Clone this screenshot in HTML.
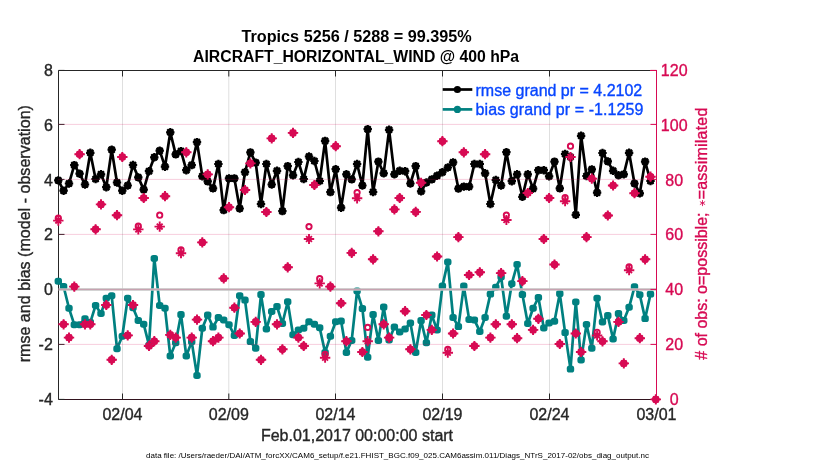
<!DOCTYPE html><html><head><meta charset="utf-8"><title>plot</title><style>html,body{margin:0;padding:0;background:#fff}text{stroke-width:.35px}text[font-weight=bold]{stroke-width:0}#df{stroke-width:0}</style></head><body><svg width="830" height="470" viewBox="0 0 830 470" style="display:block;will-change:transform;font-family:'Liberation Sans',sans-serif">
<rect width="830" height="470" fill="#fff"/>
<defs>
<g id="st" stroke="#D70A53" stroke-width="1.9" stroke-linecap="butt" fill="none"><path d="M-5.2 0H5.2M0 -5.1V5.1M-2.9 -2.9L2.9 2.9M-2.9 2.9L2.9 -2.9"/></g>
<circle id="oo" r="2.65" fill="none" stroke="#D70A53" stroke-width="1.9"/>
<g id="cb"><use href="#oo"/><use href="#st"/><path d="M-4.7 0L0 -4.7L4.7 0L0 4.7Z" fill="#D70A53"/></g>
<g id="bk"><circle r="3.6" fill="#000"/><path d="M-4.2 0H4.2M0 -4.2V4.2M-3 -3L3 3M-3 3L3 -3" stroke="#000" stroke-width="2.2"/></g>
<rect id="tl" x="-3.7" y="-3.5" width="7.4" height="7" rx="2.7" fill="#008080"/>
</defs>
<line x1="122.5" y1="70.5" x2="122.5" y2="399.5" stroke="#DFDFDF" stroke-width="1"/>
<line x1="228.8" y1="70.5" x2="228.8" y2="399.5" stroke="#DFDFDF" stroke-width="1"/>
<line x1="335.5" y1="70.5" x2="335.5" y2="399.5" stroke="#DFDFDF" stroke-width="1"/>
<line x1="442.5" y1="70.5" x2="442.5" y2="399.5" stroke="#DFDFDF" stroke-width="1"/>
<line x1="549.5" y1="70.5" x2="549.5" y2="399.5" stroke="#DFDFDF" stroke-width="1"/>
<path d="M58.5 70.5V399.5M58.5 70.5H650" stroke="#262626" stroke-width="1" fill="none"/>
<path d="M58.5 399.5H656.5" stroke="#32131E" stroke-width="1" fill="none"/>
<path d="M122.5 70.5v6M122.5 399.5v-6" stroke="#262626" stroke-width="1"/>
<path d="M228.8 70.5v6M228.8 399.5v-6" stroke="#262626" stroke-width="1"/>
<path d="M335.5 70.5v6M335.5 399.5v-6" stroke="#262626" stroke-width="1"/>
<path d="M442.5 70.5v6M442.5 399.5v-6" stroke="#262626" stroke-width="1"/>
<path d="M549.5 70.5v6M549.5 399.5v-6" stroke="#262626" stroke-width="1"/>
<path d="M58.5 70.4h6" stroke="#262626" stroke-width="1"/>
<path d="M58.5 124.4h6" stroke="#262626" stroke-width="1"/>
<path d="M58.5 179.4h6" stroke="#262626" stroke-width="1"/>
<path d="M58.5 234.4h6" stroke="#262626" stroke-width="1"/>
<path d="M58.5 289.4h6" stroke="#262626" stroke-width="1"/>
<path d="M58.5 344.4h6" stroke="#262626" stroke-width="1"/>
<path d="M58.5 399.4h6" stroke="#262626" stroke-width="1"/>
<polyline points="58.3,180.4 63.6,190.7 69.0,183.5 74.3,165.1 79.6,173.7 85.0,184.5 90.3,152.8 95.6,179.0 101.0,174.3 106.3,187.2 111.7,149.7 117.0,182.5 122.3,190.7 127.7,185.5 133.0,165.0 138.3,177.4 143.7,189.6 149.0,171.2 154.3,157.3 159.7,150.7 165.0,166.7 170.3,132.3 175.7,154.4 181.0,151.1 186.3,170.2 191.7,165.1 197.0,142.1 202.3,176.3 207.7,181.4 213.0,188.4 218.4,164.0 223.7,210.1 229.0,178.4 234.4,178.4 239.7,208.5 245.0,172.2 250.4,152.4 255.7,162.6 261.0,204.0 266.4,164.0 271.7,184.5 277.0,170.8 282.4,211.1 287.7,166.1 293.0,175.3 298.4,162.0 303.7,179.0 309.0,156.5 314.4,161.0 319.7,181.0 325.1,140.9 330.4,192.1 335.7,169.2 341.1,207.7 346.4,174.3 351.7,179.4 357.1,164.0 362.4,185.5 367.7,129.2 373.1,192.0 378.4,161.6 383.7,173.3 389.1,129.8 394.4,174.3 399.7,170.8 405.1,171.2 410.4,183.5 415.7,166.1 421.1,191.3 426.4,182.5 431.8,179.4 437.1,175.7 442.4,172.2 447.8,167.5 453.1,162.4 458.4,188.6 463.8,186.6 469.1,186.6 474.4,164.0 479.8,164.0 485.1,173.3 490.4,204.0 495.8,180.0 501.1,185.5 506.4,152.2 511.8,181.2 517.1,174.3 522.4,196.8 527.8,174.3 533.1,188.6 538.4,170.2 543.8,170.2 549.1,176.3 554.5,161.6 559.8,188.4 565.1,154.0 570.5,157.0 575.8,214.8 581.1,135.8 586.5,176.0 591.8,169.4 597.1,192.7 602.5,153.0 607.8,161.4 613.1,170.8 618.5,175.3 623.8,174.3 629.1,152.8 634.5,183.5 639.8,193.3 645.1,161.6 650.5,181.0" fill="none" stroke="#000" stroke-width="2.7" stroke-linejoin="round"/>
<use href="#bk" x="58.3" y="180.4"/>
<use href="#bk" x="63.6" y="190.7"/>
<use href="#bk" x="69.0" y="183.5"/>
<use href="#bk" x="74.3" y="165.1"/>
<use href="#bk" x="79.6" y="173.7"/>
<use href="#bk" x="85.0" y="184.5"/>
<use href="#bk" x="90.3" y="152.8"/>
<use href="#bk" x="95.6" y="179.0"/>
<use href="#bk" x="101.0" y="174.3"/>
<use href="#bk" x="106.3" y="187.2"/>
<use href="#bk" x="111.7" y="149.7"/>
<use href="#bk" x="117.0" y="182.5"/>
<use href="#bk" x="122.3" y="190.7"/>
<use href="#bk" x="127.7" y="185.5"/>
<use href="#bk" x="133.0" y="165.0"/>
<use href="#bk" x="138.3" y="177.4"/>
<use href="#bk" x="143.7" y="189.6"/>
<use href="#bk" x="149.0" y="171.2"/>
<use href="#bk" x="154.3" y="157.3"/>
<use href="#bk" x="159.7" y="150.7"/>
<use href="#bk" x="165.0" y="166.7"/>
<use href="#bk" x="170.3" y="132.3"/>
<use href="#bk" x="175.7" y="154.4"/>
<use href="#bk" x="181.0" y="151.1"/>
<use href="#bk" x="186.3" y="170.2"/>
<use href="#bk" x="191.7" y="165.1"/>
<use href="#bk" x="197.0" y="142.1"/>
<use href="#bk" x="202.3" y="176.3"/>
<use href="#bk" x="207.7" y="181.4"/>
<use href="#bk" x="213.0" y="188.4"/>
<use href="#bk" x="218.4" y="164.0"/>
<use href="#bk" x="223.7" y="210.1"/>
<use href="#bk" x="229.0" y="178.4"/>
<use href="#bk" x="234.4" y="178.4"/>
<use href="#bk" x="239.7" y="208.5"/>
<use href="#bk" x="245.0" y="172.2"/>
<use href="#bk" x="250.4" y="152.4"/>
<use href="#bk" x="255.7" y="162.6"/>
<use href="#bk" x="261.0" y="204.0"/>
<use href="#bk" x="266.4" y="164.0"/>
<use href="#bk" x="271.7" y="184.5"/>
<use href="#bk" x="277.0" y="170.8"/>
<use href="#bk" x="282.4" y="211.1"/>
<use href="#bk" x="287.7" y="166.1"/>
<use href="#bk" x="293.0" y="175.3"/>
<use href="#bk" x="298.4" y="162.0"/>
<use href="#bk" x="303.7" y="179.0"/>
<use href="#bk" x="309.0" y="156.5"/>
<use href="#bk" x="314.4" y="161.0"/>
<use href="#bk" x="319.7" y="181.0"/>
<use href="#bk" x="325.1" y="140.9"/>
<use href="#bk" x="330.4" y="192.1"/>
<use href="#bk" x="335.7" y="169.2"/>
<use href="#bk" x="341.1" y="207.7"/>
<use href="#bk" x="346.4" y="174.3"/>
<use href="#bk" x="351.7" y="179.4"/>
<use href="#bk" x="357.1" y="164.0"/>
<use href="#bk" x="362.4" y="185.5"/>
<use href="#bk" x="367.7" y="129.2"/>
<use href="#bk" x="373.1" y="192.0"/>
<use href="#bk" x="378.4" y="161.6"/>
<use href="#bk" x="383.7" y="173.3"/>
<use href="#bk" x="389.1" y="129.8"/>
<use href="#bk" x="394.4" y="174.3"/>
<use href="#bk" x="399.7" y="170.8"/>
<use href="#bk" x="405.1" y="171.2"/>
<use href="#bk" x="410.4" y="183.5"/>
<use href="#bk" x="415.7" y="166.1"/>
<use href="#bk" x="421.1" y="191.3"/>
<use href="#bk" x="426.4" y="182.5"/>
<use href="#bk" x="431.8" y="179.4"/>
<use href="#bk" x="437.1" y="175.7"/>
<use href="#bk" x="442.4" y="172.2"/>
<use href="#bk" x="447.8" y="167.5"/>
<use href="#bk" x="453.1" y="162.4"/>
<use href="#bk" x="458.4" y="188.6"/>
<use href="#bk" x="463.8" y="186.6"/>
<use href="#bk" x="469.1" y="186.6"/>
<use href="#bk" x="474.4" y="164.0"/>
<use href="#bk" x="479.8" y="164.0"/>
<use href="#bk" x="485.1" y="173.3"/>
<use href="#bk" x="490.4" y="204.0"/>
<use href="#bk" x="495.8" y="180.0"/>
<use href="#bk" x="501.1" y="185.5"/>
<use href="#bk" x="506.4" y="152.2"/>
<use href="#bk" x="511.8" y="181.2"/>
<use href="#bk" x="517.1" y="174.3"/>
<use href="#bk" x="522.4" y="196.8"/>
<use href="#bk" x="527.8" y="174.3"/>
<use href="#bk" x="533.1" y="188.6"/>
<use href="#bk" x="538.4" y="170.2"/>
<use href="#bk" x="543.8" y="170.2"/>
<use href="#bk" x="549.1" y="176.3"/>
<use href="#bk" x="554.5" y="161.6"/>
<use href="#bk" x="559.8" y="188.4"/>
<use href="#bk" x="565.1" y="154.0"/>
<use href="#bk" x="570.5" y="157.0"/>
<use href="#bk" x="575.8" y="214.8"/>
<use href="#bk" x="581.1" y="135.8"/>
<use href="#bk" x="586.5" y="176.0"/>
<use href="#bk" x="591.8" y="169.4"/>
<use href="#bk" x="597.1" y="192.7"/>
<use href="#bk" x="602.5" y="153.0"/>
<use href="#bk" x="607.8" y="161.4"/>
<use href="#bk" x="613.1" y="170.8"/>
<use href="#bk" x="618.5" y="175.3"/>
<use href="#bk" x="623.8" y="174.3"/>
<use href="#bk" x="629.1" y="152.8"/>
<use href="#bk" x="634.5" y="183.5"/>
<use href="#bk" x="639.8" y="193.3"/>
<use href="#bk" x="645.1" y="161.6"/>
<use href="#bk" x="650.5" y="181.0"/>
<polyline points="58.3,281.2 63.6,286.5 69.0,308.3 74.3,324.7 79.6,324.7 85.0,318.7 90.3,322.3 95.6,305.4 101.0,313.4 106.3,298.2 111.7,295.8 117.0,348.8 122.3,336.3 127.7,298.2 133.0,307.8 138.3,320.4 143.7,324.2 149.0,345.2 154.3,258.4 159.7,305.4 165.0,308.3 170.3,356.0 175.7,342.8 181.0,314.6 186.3,356.0 191.7,341.6 197.0,375.5 202.3,328.3 207.7,315.1 213.0,327.1 218.4,317.5 223.7,319.9 229.0,324.7 234.4,335.5 239.7,295.8 245.0,300.1 250.4,341.6 255.7,348.3 261.0,294.6 266.4,329.0 271.7,311.4 277.0,306.6 282.4,323.5 287.7,301.8 293.0,334.8 298.4,330.0 303.7,328.3 309.0,321.8 314.4,324.2 319.7,327.8 325.1,352.4 330.4,336.3 335.7,321.8 341.1,321.1 346.4,352.4 351.7,340.4 357.1,291.0 362.4,308.6 367.7,357.2 373.1,314.6 378.4,340.4 383.7,307.1 389.1,340.0 394.4,327.1 399.7,331.9 405.1,329.0 410.4,323.0 415.7,352.4 421.1,320.6 426.4,342.8 431.8,315.1 437.1,330.0 442.4,286.1 447.8,262.0 453.1,317.5 458.4,326.6 463.8,286.1 469.1,319.4 474.4,319.9 479.8,331.4 485.1,317.5 490.4,294.1 495.8,287.3 501.1,277.0 506.4,316.3 511.8,283.7 517.1,264.5 522.4,294.6 527.8,323.5 533.1,308.3 538.4,297.5 543.8,328.0 549.1,323.0 554.5,321.3 559.8,293.6 565.1,332.6 570.5,369.1 575.8,302.0 581.1,360.0 586.5,324.4 591.8,348.2 597.1,298.3 602.5,322.0 607.8,315.6 613.1,339.0 618.5,313.6 623.8,320.5 629.1,307.3 634.5,286.8 639.8,294.8 645.1,318.6 650.5,294.1" fill="none" stroke="#008080" stroke-width="2.7" stroke-linejoin="round"/>
<use href="#tl" x="58.3" y="281.2"/>
<use href="#tl" x="63.6" y="286.5"/>
<use href="#tl" x="69.0" y="308.3"/>
<use href="#tl" x="74.3" y="324.7"/>
<use href="#tl" x="79.6" y="324.7"/>
<use href="#tl" x="85.0" y="318.7"/>
<use href="#tl" x="90.3" y="322.3"/>
<use href="#tl" x="95.6" y="305.4"/>
<use href="#tl" x="101.0" y="313.4"/>
<use href="#tl" x="106.3" y="298.2"/>
<use href="#tl" x="111.7" y="295.8"/>
<use href="#tl" x="117.0" y="348.8"/>
<use href="#tl" x="122.3" y="336.3"/>
<use href="#tl" x="127.7" y="298.2"/>
<use href="#tl" x="133.0" y="307.8"/>
<use href="#tl" x="138.3" y="320.4"/>
<use href="#tl" x="143.7" y="324.2"/>
<use href="#tl" x="149.0" y="345.2"/>
<use href="#tl" x="154.3" y="258.4"/>
<use href="#tl" x="159.7" y="305.4"/>
<use href="#tl" x="165.0" y="308.3"/>
<use href="#tl" x="170.3" y="356.0"/>
<use href="#tl" x="175.7" y="342.8"/>
<use href="#tl" x="181.0" y="314.6"/>
<use href="#tl" x="186.3" y="356.0"/>
<use href="#tl" x="191.7" y="341.6"/>
<use href="#tl" x="197.0" y="375.5"/>
<use href="#tl" x="202.3" y="328.3"/>
<use href="#tl" x="207.7" y="315.1"/>
<use href="#tl" x="213.0" y="327.1"/>
<use href="#tl" x="218.4" y="317.5"/>
<use href="#tl" x="223.7" y="319.9"/>
<use href="#tl" x="229.0" y="324.7"/>
<use href="#tl" x="234.4" y="335.5"/>
<use href="#tl" x="239.7" y="295.8"/>
<use href="#tl" x="245.0" y="300.1"/>
<use href="#tl" x="250.4" y="341.6"/>
<use href="#tl" x="255.7" y="348.3"/>
<use href="#tl" x="261.0" y="294.6"/>
<use href="#tl" x="266.4" y="329.0"/>
<use href="#tl" x="271.7" y="311.4"/>
<use href="#tl" x="277.0" y="306.6"/>
<use href="#tl" x="282.4" y="323.5"/>
<use href="#tl" x="287.7" y="301.8"/>
<use href="#tl" x="293.0" y="334.8"/>
<use href="#tl" x="298.4" y="330.0"/>
<use href="#tl" x="303.7" y="328.3"/>
<use href="#tl" x="309.0" y="321.8"/>
<use href="#tl" x="314.4" y="324.2"/>
<use href="#tl" x="319.7" y="327.8"/>
<use href="#tl" x="325.1" y="352.4"/>
<use href="#tl" x="330.4" y="336.3"/>
<use href="#tl" x="335.7" y="321.8"/>
<use href="#tl" x="341.1" y="321.1"/>
<use href="#tl" x="346.4" y="352.4"/>
<use href="#tl" x="351.7" y="340.4"/>
<use href="#tl" x="357.1" y="291.0"/>
<use href="#tl" x="362.4" y="308.6"/>
<use href="#tl" x="367.7" y="357.2"/>
<use href="#tl" x="373.1" y="314.6"/>
<use href="#tl" x="378.4" y="340.4"/>
<use href="#tl" x="383.7" y="307.1"/>
<use href="#tl" x="389.1" y="340.0"/>
<use href="#tl" x="394.4" y="327.1"/>
<use href="#tl" x="399.7" y="331.9"/>
<use href="#tl" x="405.1" y="329.0"/>
<use href="#tl" x="410.4" y="323.0"/>
<use href="#tl" x="415.7" y="352.4"/>
<use href="#tl" x="421.1" y="320.6"/>
<use href="#tl" x="426.4" y="342.8"/>
<use href="#tl" x="431.8" y="315.1"/>
<use href="#tl" x="437.1" y="330.0"/>
<use href="#tl" x="442.4" y="286.1"/>
<use href="#tl" x="447.8" y="262.0"/>
<use href="#tl" x="453.1" y="317.5"/>
<use href="#tl" x="458.4" y="326.6"/>
<use href="#tl" x="463.8" y="286.1"/>
<use href="#tl" x="469.1" y="319.4"/>
<use href="#tl" x="474.4" y="319.9"/>
<use href="#tl" x="479.8" y="331.4"/>
<use href="#tl" x="485.1" y="317.5"/>
<use href="#tl" x="490.4" y="294.1"/>
<use href="#tl" x="495.8" y="287.3"/>
<use href="#tl" x="501.1" y="277.0"/>
<use href="#tl" x="506.4" y="316.3"/>
<use href="#tl" x="511.8" y="283.7"/>
<use href="#tl" x="517.1" y="264.5"/>
<use href="#tl" x="522.4" y="294.6"/>
<use href="#tl" x="527.8" y="323.5"/>
<use href="#tl" x="533.1" y="308.3"/>
<use href="#tl" x="538.4" y="297.5"/>
<use href="#tl" x="543.8" y="328.0"/>
<use href="#tl" x="549.1" y="323.0"/>
<use href="#tl" x="554.5" y="321.3"/>
<use href="#tl" x="559.8" y="293.6"/>
<use href="#tl" x="565.1" y="332.6"/>
<use href="#tl" x="570.5" y="369.1"/>
<use href="#tl" x="575.8" y="302.0"/>
<use href="#tl" x="581.1" y="360.0"/>
<use href="#tl" x="586.5" y="324.4"/>
<use href="#tl" x="591.8" y="348.2"/>
<use href="#tl" x="597.1" y="298.3"/>
<use href="#tl" x="602.5" y="322.0"/>
<use href="#tl" x="607.8" y="315.6"/>
<use href="#tl" x="613.1" y="339.0"/>
<use href="#tl" x="618.5" y="313.6"/>
<use href="#tl" x="623.8" y="320.5"/>
<use href="#tl" x="629.1" y="307.3"/>
<use href="#tl" x="634.5" y="286.8"/>
<use href="#tl" x="639.8" y="294.8"/>
<use href="#tl" x="645.1" y="318.6"/>
<use href="#tl" x="650.5" y="294.1"/>
<line x1="58.5" y1="289.5" x2="656.5" y2="289.5" stroke="#C4C4C4" stroke-width="2.3"/>
<line x1="58" y1="124.4" x2="656.5" y2="124.4" stroke="#D70A53" stroke-opacity="0.2" stroke-width="1"/>
<line x1="58" y1="179.4" x2="656.5" y2="179.4" stroke="#D70A53" stroke-opacity="0.2" stroke-width="1"/>
<line x1="58" y1="234.4" x2="656.5" y2="234.4" stroke="#D70A53" stroke-opacity="0.2" stroke-width="1"/>
<line x1="58" y1="289.4" x2="656.5" y2="289.4" stroke="#D70A53" stroke-opacity="0.2" stroke-width="1"/>
<line x1="58" y1="344.4" x2="656.5" y2="344.4" stroke="#D70A53" stroke-opacity="0.2" stroke-width="1"/>
<path d="M656.5 70V399.5M650 70.5H657" stroke="#D70A53" stroke-width="1" fill="none"/>
<path d="M656.5 70.4h-6" stroke="#D70A53" stroke-width="1"/>
<path d="M656.5 124.4h-6" stroke="#D70A53" stroke-width="1"/>
<path d="M656.5 179.4h-6" stroke="#D70A53" stroke-width="1"/>
<path d="M656.5 234.4h-6" stroke="#D70A53" stroke-width="1"/>
<path d="M656.5 289.4h-6" stroke="#D70A53" stroke-width="1"/>
<path d="M656.5 344.4h-6" stroke="#D70A53" stroke-width="1"/>
<path d="M656.5 399.4h-6" stroke="#D70A53" stroke-width="1"/>
<use href="#oo" x="58.3" y="218.2"/><use href="#st" x="58.3" y="220.6"/>
<use href="#cb" x="63.6" y="324.3"/>
<use href="#cb" x="69.0" y="337.6"/>
<use href="#cb" x="74.3" y="286.6"/>
<use href="#cb" x="79.6" y="154.2"/>
<use href="#cb" x="85.0" y="324.3"/>
<use href="#cb" x="90.3" y="324.3"/>
<use href="#cb" x="95.6" y="229.3"/>
<use href="#cb" x="101.0" y="204.4"/>
<use href="#cb" x="106.3" y="305.0"/>
<use href="#cb" x="111.7" y="359.8"/>
<use href="#cb" x="117.0" y="215.2"/>
<use href="#cb" x="122.3" y="157.0"/>
<use href="#cb" x="127.7" y="335.4"/>
<use href="#cb" x="133.0" y="305.0"/>
<use href="#oo" x="138.3" y="226.2"/><use href="#st" x="138.3" y="229.4"/>
<use href="#cb" x="143.7" y="198.0"/>
<use href="#cb" x="149.0" y="346.0"/>
<use href="#cb" x="154.3" y="341.2"/>
<use href="#oo" x="159.7" y="215.2"/><use href="#st" x="159.7" y="226.6"/>
<use href="#cb" x="165.0" y="196.2"/>
<use href="#cb" x="170.3" y="334.9"/>
<use href="#cb" x="175.7" y="337.6"/>
<use href="#oo" x="181.0" y="249.9"/><use href="#st" x="181.0" y="253.2"/>
<use href="#cb" x="186.3" y="152.3"/>
<use href="#cb" x="191.7" y="337.6"/>
<use href="#cb" x="197.0" y="319.6"/>
<use href="#cb" x="202.3" y="242.4"/>
<use href="#cb" x="207.7" y="174.4"/>
<use href="#cb" x="213.0" y="341.2"/>
<use href="#cb" x="218.4" y="337.6"/>
<use href="#cb" x="223.7" y="278.4"/>
<use href="#cb" x="229.0" y="207.2"/>
<use href="#cb" x="234.4" y="307.7"/>
<use href="#cb" x="239.7" y="333.5"/>
<use href="#cb" x="245.0" y="190.0"/>
<use href="#cb" x="250.4" y="163.4"/>
<use href="#cb" x="255.7" y="321.9"/>
<use href="#cb" x="261.0" y="359.8"/>
<use href="#cb" x="266.4" y="212.0"/>
<use href="#cb" x="271.7" y="138.4"/>
<use href="#cb" x="277.0" y="324.3"/>
<use href="#cb" x="282.4" y="349.3"/>
<use href="#cb" x="287.7" y="267.3"/>
<use href="#cb" x="293.0" y="132.9"/>
<use href="#cb" x="298.4" y="337.6"/>
<use href="#cb" x="303.7" y="346.0"/>
<use href="#oo" x="309.0" y="226.6"/><use href="#st" x="309.0" y="239.0"/>
<use href="#cb" x="314.4" y="185.0"/>
<use href="#oo" x="319.7" y="278.7"/><use href="#st" x="319.7" y="283.4"/>
<use href="#oo" x="325.1" y="354.4"/><use href="#st" x="325.1" y="357.7"/>
<use href="#cb" x="330.4" y="286.6"/>
<use href="#cb" x="335.7" y="146.2"/>
<use href="#cb" x="341.1" y="303.2"/>
<use href="#cb" x="346.4" y="341.2"/>
<use href="#cb" x="351.7" y="252.9"/>
<use href="#oo" x="357.1" y="192.6"/><use href="#st" x="357.1" y="198.3"/>
<use href="#cb" x="362.4" y="352.0"/>
<use href="#oo" x="367.7" y="327.4"/><use href="#st" x="367.7" y="341.2"/>
<use href="#cb" x="373.1" y="259.3"/>
<use href="#cb" x="378.4" y="231.3"/>
<use href="#cb" x="383.7" y="324.3"/>
<use href="#cb" x="389.1" y="337.6"/>
<use href="#cb" x="394.4" y="209.4"/>
<use href="#cb" x="399.7" y="198.0"/>
<use href="#cb" x="405.1" y="311.2"/>
<use href="#cb" x="410.4" y="349.3"/>
<use href="#cb" x="415.7" y="211.9"/>
<use href="#cb" x="421.1" y="182.8"/>
<use href="#cb" x="426.4" y="315.0"/>
<use href="#cb" x="431.8" y="329.9"/>
<use href="#cb" x="437.1" y="256.5"/>
<use href="#cb" x="442.4" y="141.2"/>
<use href="#oo" x="447.8" y="349.4"/><use href="#st" x="447.8" y="352.7"/>
<use href="#cb" x="453.1" y="333.5"/>
<use href="#cb" x="458.4" y="237.1"/>
<use href="#cb" x="463.8" y="152.3"/>
<use href="#cb" x="469.1" y="275.0"/>
<use href="#cb" x="474.4" y="346.0"/>
<use href="#cb" x="479.8" y="272.3"/>
<use href="#cb" x="485.1" y="154.2"/>
<use href="#cb" x="490.4" y="337.6"/>
<use href="#cb" x="495.8" y="324.3"/>
<use href="#cb" x="501.1" y="273.1"/>
<use href="#oo" x="506.4" y="215.1"/><use href="#st" x="506.4" y="220.0"/>
<use href="#cb" x="511.8" y="324.3"/>
<use href="#cb" x="517.1" y="338.2"/>
<use href="#cb" x="522.4" y="281.1"/>
<use href="#cb" x="527.8" y="193.0"/>
<use href="#cb" x="533.1" y="329.9"/>
<use href="#cb" x="538.4" y="318.8"/>
<use href="#cb" x="543.8" y="239.0"/>
<use href="#cb" x="549.1" y="198.0"/>
<use href="#cb" x="554.5" y="264.5"/>
<use href="#cb" x="559.8" y="344.0"/>
<use href="#oo" x="565.1" y="197.6"/><use href="#st" x="565.1" y="201.2"/>
<use href="#oo" x="570.5" y="146.2"/><use href="#st" x="570.5" y="157.0"/>
<use href="#cb" x="575.8" y="333.5"/>
<use href="#cb" x="581.1" y="352.0"/>
<use href="#cb" x="586.5" y="237.1"/>
<use href="#cb" x="591.8" y="178.6"/>
<use href="#oo" x="597.1" y="332.3"/><use href="#st" x="597.1" y="335.5"/>
<use href="#cb" x="602.5" y="341.3"/>
<use href="#cb" x="607.8" y="215.5"/>
<use href="#cb" x="613.1" y="185.5"/>
<use href="#cb" x="618.5" y="321.9"/>
<use href="#cb" x="623.8" y="363.4"/>
<use href="#oo" x="629.1" y="266.9"/><use href="#st" x="629.1" y="270.2"/>
<use href="#cb" x="634.5" y="193.2"/>
<use href="#cb" x="639.8" y="338.2"/>
<use href="#cb" x="645.1" y="259.3"/>
<use href="#cb" x="650.5" y="176.7"/>
<use href="#cb" x="655.8" y="399.4"/>
<line x1="442.7" y1="89.5" x2="472.3" y2="89.5" stroke="#000" stroke-width="2.7"/><circle cx="457.4" cy="89.5" r="3.6" fill="#000"/>
<line x1="442.7" y1="109.4" x2="472.3" y2="109.4" stroke="#008080" stroke-width="2.7"/><circle cx="457.4" cy="109.4" r="3.6" fill="#008080"/>
<text id="lg1" x="475.5" y="95.5" font-size="16" fill="#0846FF" stroke="#0846FF">rmse grand pr = 4.2102</text>
<text id="lg2" x="475.5" y="115" font-size="16" textLength="168" lengthAdjust="spacing" fill="#0846FF" stroke="#0846FF">bias grand pr = -1.1259</text>
<text id="t1" x="241.5" y="41.6" font-size="16" font-weight="bold" textLength="230.2" lengthAdjust="spacingAndGlyphs" fill="#000" stroke="#000">Tropics 5256 / 5288 = 99.395%</text>
<text id="t2" x="193.1" y="61.8" font-size="16" font-weight="bold" textLength="326" lengthAdjust="spacingAndGlyphs" fill="#000" stroke="#000">AIRCRAFT_HORIZONTAL_WIND @ 400 hPa</text>
<text x="52.8" y="75.8" font-size="16" text-anchor="end" fill="#262626" stroke="#262626">8</text>
<text x="52.8" y="130.8" font-size="16" text-anchor="end" fill="#262626" stroke="#262626">6</text>
<text x="52.8" y="185.8" font-size="16" text-anchor="end" fill="#262626" stroke="#262626">4</text>
<text x="52.8" y="239.8" font-size="16" text-anchor="end" fill="#262626" stroke="#262626">2</text>
<text x="52.8" y="294.8" font-size="16" text-anchor="end" fill="#262626" stroke="#262626">0</text>
<text x="52.8" y="349.8" font-size="16" text-anchor="end" fill="#262626" stroke="#262626">-2</text>
<text x="52.8" y="404.8" font-size="16" text-anchor="end" fill="#262626" stroke="#262626">-4</text>
<text x="674.2" y="75.8" font-size="16" text-anchor="middle" fill="#D70A53" stroke="#D70A53">120</text>
<text x="674.2" y="130.8" font-size="16" text-anchor="middle" fill="#D70A53" stroke="#D70A53">100</text>
<text x="674.2" y="185.8" font-size="16" text-anchor="middle" fill="#D70A53" stroke="#D70A53">80</text>
<text x="674.2" y="239.8" font-size="16" text-anchor="middle" fill="#D70A53" stroke="#D70A53">60</text>
<text x="674.2" y="294.8" font-size="16" text-anchor="middle" fill="#D70A53" stroke="#D70A53">40</text>
<text x="674.2" y="349.8" font-size="16" text-anchor="middle" fill="#D70A53" stroke="#D70A53">20</text>
<text x="674.2" y="404.8" font-size="16" text-anchor="middle" fill="#D70A53" stroke="#D70A53">0</text>
<text x="122.5" y="419.6" font-size="16" text-anchor="middle" fill="#262626" stroke="#262626">02/04</text>
<text x="228.8" y="419.6" font-size="16" text-anchor="middle" fill="#262626" stroke="#262626">02/09</text>
<text x="335.5" y="419.6" font-size="16" text-anchor="middle" fill="#262626" stroke="#262626">02/14</text>
<text x="442.5" y="419.6" font-size="16" text-anchor="middle" fill="#262626" stroke="#262626">02/19</text>
<text x="549.5" y="419.6" font-size="16" text-anchor="middle" fill="#262626" stroke="#262626">02/24</text>
<text x="656.5" y="419.6" font-size="16" text-anchor="middle" fill="#262626" stroke="#262626">03/01</text>
<text id="xl" x="357" y="441" font-size="16" text-anchor="middle" fill="#262626" stroke="#262626">Feb.01,2017 00:00:00 start</text>
<text id="yl" transform="translate(29.8 233.7) rotate(-90)" font-size="16" text-anchor="middle" textLength="257.2" lengthAdjust="spacing" fill="#262626" stroke="#262626">rmse and bias (model - observation)</text>
<g transform="translate(707.1 359.7) rotate(-90)"><text id="yr" x="0" y="0" font-size="16" fill="#D70A53" stroke="#D70A53"># of obs: o=possible;</text><text id="yr2" x="160.4" y="0" font-size="16" textLength="91.6" lengthAdjust="spacing" fill="#D70A53" stroke="#D70A53">=assimilated</text><path d="M153.6 -4.6h6M155.1 -7.2l3 5.2M155.1 -2l3 -5.2" stroke="#D70A53" stroke-width="0.85" fill="none"/></g>
<text id="df" x="146" y="457.5" font-size="8" textLength="503" lengthAdjust="spacing" fill="#000" stroke="#000">data file: /Users/raeder/DAI/ATM_forcXX/CAM6_setup/f.e21.FHIST_BGC.f09_025.CAM6assim.011/Diags_NTrS_2017-02/obs_diag_output.nc</text>
</svg></body></html>
